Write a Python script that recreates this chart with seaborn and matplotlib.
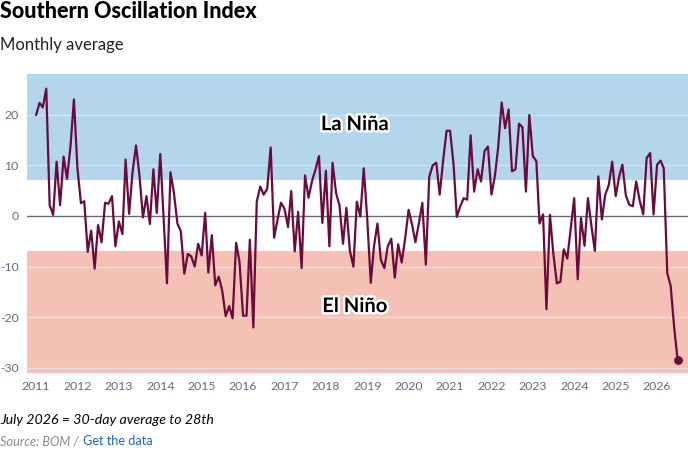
import matplotlib
matplotlib.use('Agg')
import matplotlib.pyplot as plt
import matplotlib.dates as mdates
import matplotlib.patheffects as pe
import numpy as np
import pandas as pd
import seaborn as sns

# monthly SOI values, one list per year
soi_2011 = [19.9, 22.3, 21.4, 25.1, 2.1, 0.2, 10.7, 2.1, 11.7, 7.3, 13.8, 23.0]
soi_2012 = [9.4, 2.5, 2.9, -7.1, -2.9, -10.4, -1.8, -5.2, 2.6, 2.4, 3.9, -6.0]
soi_2013 = [-1.1, -3.6, 11.1, 0.4, 8.6, 13.9, 8.1, -0.3, 3.9, -1.6, 9.2, 0.6]
soi_2014 = [12.2, -1.3, -13.3, 8.6, 4.6, -1.5, -3.0, -11.4, -7.5, -8.0, -10.0, -5.5]
soi_2015 = [-7.8, 0.6, -11.2, -3.8, -13.7, -12.0, -14.7, -19.8, -17.8, -20.2, -5.3, -9.1]
soi_2016 = [-19.7, -19.7, -4.7, -22.0, 2.8, 5.8, 4.2, 5.3, 13.5, -4.3, -0.7, 2.6]
soi_2017 = [1.4, -2.2, 4.9, -7.0, 0.8, -10.3, 8.0, 3.6, 6.9, 9.1, 11.8, -1.4]
soi_2018 = [8.9, -6.0, 10.5, 4.5, 2.1, -5.5, 1.6, -6.9, -10.0, 2.8, -0.1, 9.4]
soi_2019 = [-0.6, -13.2, -6.1, -1.5, -8.7, -10.3, -6.0, -4.5, -12.2, -5.6, -9.2, -4.5]
soi_2020 = [1.2, -1.8, -5.2, -1.4, 2.6, -9.6, 7.7, 10.0, 10.5, 4.2, 11.0, 16.8]
soi_2021 = [16.8, 10.0, -0.2, 1.9, 3.5, 3.2, 15.9, 4.8, 9.2, 6.8, 12.8, 13.7]
soi_2022 = [4.2, 8.0, 13.5, 22.4, 17.3, 21.0, 8.8, 9.2, 18.2, 17.5, 4.8, 19.9]
soi_2023 = [11.8, 10.8, -1.5, 0.3, -18.4, 0.2, -7.5, -13.3, -13.0, -6.6, -8.4, -2.5]
soi_2024 = [3.5, -12.5, -0.4, -5.9, 3.5, -2.0, -6.9, 7.8, -0.7, 4.2, 6.1, 10.7]
soi_2025 = [3.9, 7.8, 10.1, 4.0, 2.2, 1.9, 6.8, 3.0, 0.3, 11.4, 12.4, 0.3]
soi_2026 = [10.1, 10.9, 9.4, -11.3, -13.8, -22.0, -28.4]  # to July

years = list(range(2011, 2027))
y_ticks = [20, 10, 0, -10, -20, -30]
la_nina_threshold = 7
el_nino_threshold = -7

soi = (soi_2011 + soi_2012 + soi_2013 + soi_2014 + soi_2015 + soi_2016 + soi_2017
       + soi_2018 + soi_2019 + soi_2020 + soi_2021 + soi_2022 + soi_2023 + soi_2024
       + soi_2025 + soi_2026)
df = pd.DataFrame({'Month': pd.date_range('2011-01-01', periods=len(soi), freq='MS'),
                   'SOI': soi})

sns.set_theme(style='white')
plt.rcParams['font.family'] = ['Lato', 'DejaVu Sans']
plt.rcParams['axes.unicode_minus'] = False

line_col = '#6a0a3d'
axis_col = '#5f6c80'

fig = plt.figure(figsize=(6.88, 4.51), dpi=100)
ax = fig.add_axes([27 / 688, 1 - 373 / 451, 661 / 688, 299 / 451])

# La Nina / El Nino bands
ax.axhspan(la_nina_threshold, 28, color='#b4d6ed', lw=0, zorder=0)
ax.axhspan(-31, el_nino_threshold, color='#f5c1b4', lw=0, zorder=0)
for v in y_ticks:
    if v != 0:
        ax.axhline(v, color='#dde0e4', lw=1, zorder=1)
ax.axhline(0, color=axis_col, lw=1, zorder=2)

sns.lineplot(data=df, x='Month', y='SOI', color=line_col, lw=1.6, ax=ax, zorder=3)
ax.lines[-1].set_solid_joinstyle('round')
last = df.iloc[[-1]]
ax.scatter(last['Month'], last['SOI'], s=28, color=line_col, zorder=4)

ax.set_ylim(-31, 28)
ax.set_xlim(pd.Timestamp('2010-10-13'), pd.Timestamp('2026-10-01'))
ax.set_yticks(y_ticks)
ax.set_xticks([pd.Timestamp(f'{y}-01-01') for y in years])
ax.xaxis.set_major_formatter(mdates.DateFormatter('%Y'))
ax.tick_params(axis='both', length=0, labelsize=8.8, colors=axis_col)
ax.tick_params(axis='y', pad=6)
ax.tick_params(axis='x', pad=6)
ax.set_xlabel('')
ax.set_ylabel('')
for s in ax.spines.values():
    s.set_visible(False)

halo = [pe.withStroke(linewidth=3.5, foreground='white')]
ax.text(0.496, 18.1, 'La Niña', transform=ax.get_yaxis_transform(), ha='center', va='center',
        fontsize=14.5, fontweight='bold', color='black', path_effects=halo, zorder=5)
ax.text(0.496, -17.8, 'El Niño', transform=ax.get_yaxis_transform(), ha='center', va='center',
        fontsize=14.5, fontweight='bold', color='black', path_effects=halo, zorder=5)

fig.text(0, 1 - 12 / 451, 'Southern Oscillation Index', ha='left', va='center',
         fontsize=15.5, fontweight='black', color='black')
fig.text(0, 1 - 45 / 451, 'Monthly average', ha='left', va='center', fontsize=12, color='#222222')
fig.text(0, 1 - 420 / 451, 'July 2026 = 30-day average to 28th', ha='left', va='center',
         fontsize=10.2, style='italic', color='black')
fig.text(0, 1 - 441 / 451, 'Source: BOM /', ha='left', va='center',
         fontsize=9.2, style='italic', color='#8a8a8a')
fig.text(83 / 688, 1 - 441 / 451, 'Get the data', ha='left', va='center',
         fontsize=9.2, color='#1565d8')

fig.savefig('out.png', dpi=100)
